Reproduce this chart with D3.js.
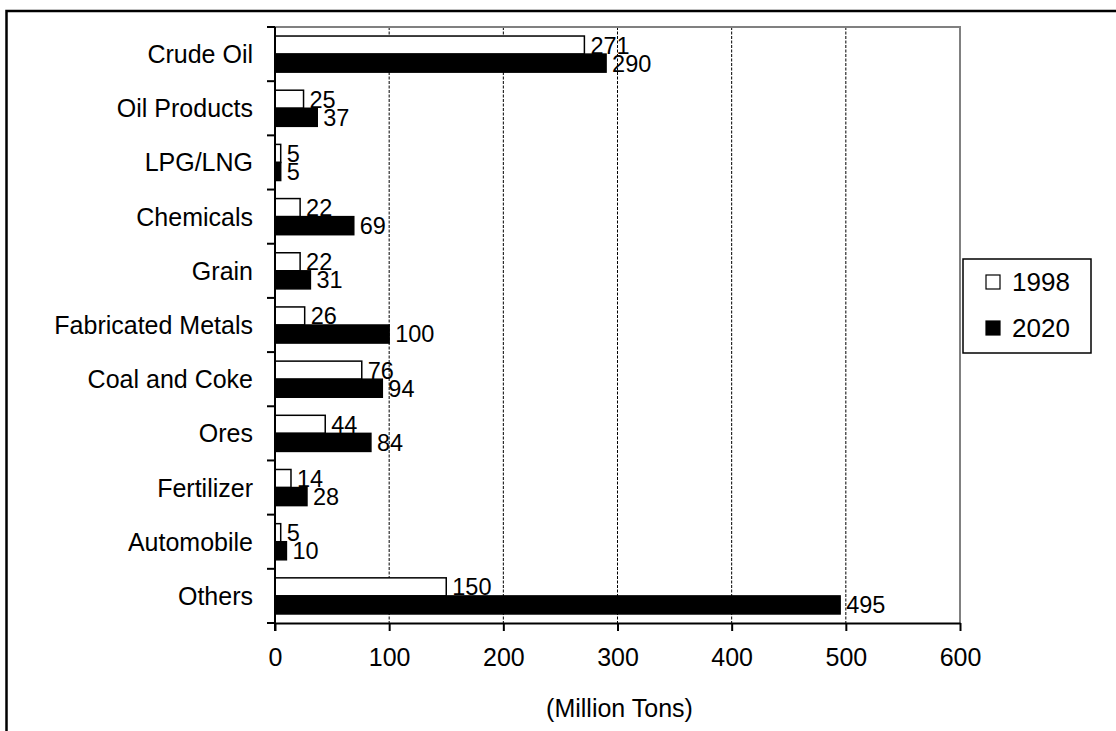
<!DOCTYPE html>
<html>
<head>
<meta charset="utf-8">
<script src="https://cdn.jsdelivr.net/npm/d3@7"></script>
<style>
  html, body { margin: 0; padding: 0; background: #fff; }
  svg { display: block; font-family: "Liberation Sans", Arial, sans-serif; }
</style>
</head>
<body>
<svg id="chart" width="1116" height="731"></svg>
<script>
// Cargo volumes by commodity, million tons
const categories = ["Crude Oil", "Oil Products", "LPG/LNG", "Chemicals", "Grain",
  "Fabricated Metals", "Coal and Coke", "Ores", "Fertilizer", "Automobile", "Others"];
const values1998 = [271, 25, 5, 22, 22, 26, 76, 44, 14, 5, 150];
const values2020 = [290, 37, 5, 69, 31, 100, 94, 84, 28, 10, 495];
const seriesNames = ["1998", "2020"];
const xTicks = [0, 100, 200, 300, 400, 500, 600];
const xTitle = "(Million Tons)";

const FONT = "Liberation Sans, Arial, sans-serif";
const svg = d3.select("#chart");

// outer frame
svg.append("rect")
  .attr("x", 6.5).attr("y", 11)
  .attr("width", 1200).attr("height", 800)
  .attr("fill", "none").attr("stroke", "#000").attr("stroke-width", 2.5);

const plot = { left: 275, right: 960, top: 27, bottom: 623 };

const x = d3.scaleLinear().domain([0, 600]).range([plot.left, plot.right]);
const y = d3.scaleBand().domain(categories).range([plot.top, plot.bottom]).padding(0);
const bw = y.bandwidth();
const barH = bw / 3;

// dashed gridlines
svg.append("g")
  .selectAll("line")
  .data(xTicks.filter(d => d > 0 && d < 600))
  .join("line")
  .attr("x1", d => x(d)).attr("x2", d => x(d))
  .attr("y1", plot.top).attr("y2", plot.bottom)
  .attr("stroke", "#000").attr("stroke-width", 1)
  .attr("stroke-dasharray", "3,1.5");

// plot area border (top and right, grey)
svg.append("path")
  .attr("d", `M${plot.left},${plot.top}H${plot.right}V${plot.bottom}`)
  .attr("fill", "none").attr("stroke", "#808080").attr("stroke-width", 2);

const series = [
  { name: seriesNames[0], values: values1998, fill: "#fff", offset: bw / 6 },
  { name: seriesNames[1], values: values2020, fill: "#000", offset: bw / 6 + barH }
];

// bars
series.forEach(s => {
  svg.append("g")
    .selectAll("rect")
    .data(categories.map((c, i) => ({ c, v: s.values[i] })))
    .join("rect")
    .attr("x", x(0))
    .attr("y", d => y(d.c) + s.offset)
    .attr("width", d => x(d.v) - x(0))
    .attr("height", barH)
    .attr("fill", s.fill)
    .attr("stroke", "#000").attr("stroke-width", 1.5);
});

// value labels
series.forEach(s => {
  svg.append("g")
    .selectAll("text")
    .data(categories.map((c, i) => ({ c, v: s.values[i] })))
    .join("text")
    .attr("x", d => x(d.v) + 6)
    .attr("y", d => y(d.c) + s.offset + barH / 2)
    .attr("dy", "0.36em")
    .attr("font-size", 23.5)
    .attr("fill", "#000")
    .text(d => d.v);
});

// x axis
const xAxis = svg.append("g")
  .attr("transform", `translate(0,${plot.bottom})`)
  .call(d3.axisBottom(x).tickValues(xTicks).tickSize(8).tickPadding(17).tickSizeOuter(0));
xAxis.select(".domain").attr("stroke", "#000").attr("stroke-width", 2);
xAxis.selectAll(".tick line").attr("stroke", "#000").attr("stroke-width", 2);
xAxis.selectAll("text").attr("font-size", 25).attr("fill", "#000")
  .attr("font-family", FONT);

// y axis: ticks at category boundaries, labels centred in bands
const bounds = categories.map(c => y(c)).concat([plot.bottom]);
svg.append("line")
  .attr("x1", plot.left).attr("x2", plot.left)
  .attr("y1", plot.top).attr("y2", plot.bottom + 8)
  .attr("stroke", "#000").attr("stroke-width", 2);
svg.append("g").selectAll("line")
  .data(bounds)
  .join("line")
  .attr("x1", plot.left - 8).attr("x2", plot.left)
  .attr("y1", d => d).attr("y2", d => d)
  .attr("stroke", "#000").attr("stroke-width", 2);
svg.append("g").selectAll("text")
  .data(categories)
  .join("text")
  .attr("x", 253)
  .attr("y", d => y(d) + bw / 2)
  .attr("dy", "0.36em")
  .attr("text-anchor", "end")
  .attr("font-size", 25)
  .attr("fill", "#000")
  .text(d => d);

// axis title
svg.append("text")
  .attr("x", (plot.left + plot.right) / 2 + 2)
  .attr("y", 717)
  .attr("text-anchor", "middle")
  .attr("font-size", 25)
  .attr("fill", "#000")
  .text(xTitle);

// legend
const legend = svg.append("g");
legend.append("rect")
  .attr("x", 963).attr("y", 259).attr("width", 128).attr("height", 94)
  .attr("fill", "#fff").attr("stroke", "#000").attr("stroke-width", 1.5);
series.forEach((s, i) => {
  const cy = 282 + i * 46;
  legend.append("rect")
    .attr("x", 986).attr("y", cy - 7).attr("width", 14).attr("height", 14)
    .attr("fill", s.fill).attr("stroke", "#000").attr("stroke-width", 1.2);
  legend.append("text")
    .attr("x", 1012).attr("y", cy).attr("dy", "0.36em")
    .attr("font-size", 26).attr("fill", "#000")
    .text(s.name);
});
</script>
</body>
</html>
